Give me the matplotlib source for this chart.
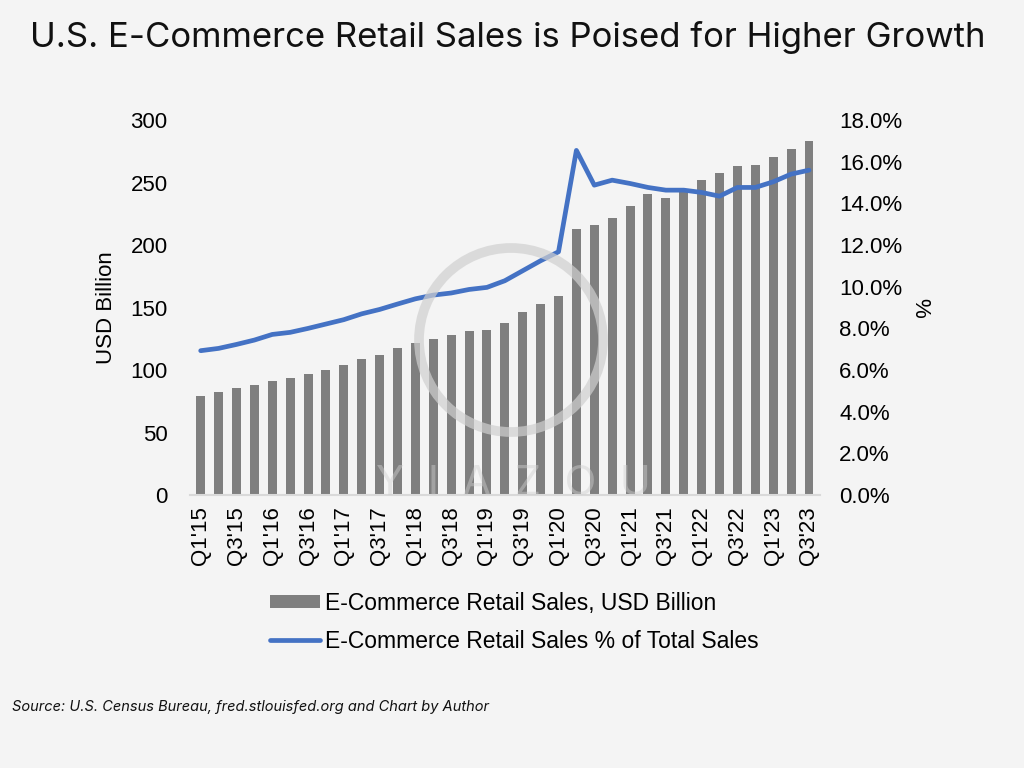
import numpy as np
import matplotlib.pyplot as plt
from matplotlib.patches import Ellipse

# Data
quarters = [f"Q{q}'{y}" for y in range(15, 24) for q in range(1, 5)][:35]
sales = [79.4, 82.1, 85.6, 88.3, 90.9, 93.6, 97.1, 99.7, 104.0, 108.5,
         112.0, 117.3, 121.6, 125.1, 127.7, 131.5, 132.3, 137.3, 146.1, 152.5,
         159.5, 213.3, 216.5, 221.9, 231.5, 241.1, 237.9, 245.3, 252.5, 258.1,
         263.2, 264.0, 270.9, 277.3, 283.5]
share = [6.93, 7.04, 7.23, 7.44, 7.71, 7.81, 8.00, 8.21, 8.42, 8.70,
         8.91, 9.17, 9.42, 9.60, 9.70, 9.87, 9.97, 10.29, 10.77, 11.25,
         11.68, 16.55, 14.88, 15.12, 14.96, 14.77, 14.64, 14.64, 14.53, 14.35,
         14.77, 14.77, 15.04, 15.41, 15.60]

title = "U.S. E-Commerce Retail Sales is Poised for Higher Growth"
source = "Source: U.S. Census Bureau, fred.stlouisfed.org and Chart by Author"

bg = '#f4f4f4'
plt.rcParams['font.family'] = ['Liberation Sans', 'DejaVu Sans']

fig = plt.figure(figsize=(10.24, 7.68), dpi=100, facecolor=bg)
ax = fig.add_axes([0.1855, 0.3555, 0.615, 0.488])
ax.set_facecolor(bg)

x = np.arange(len(quarters))
bars = ax.bar(x, sales, width=0.5, color='#7f7f7f', zorder=2,
              label='E-Commerce Retail Sales, USD Billion')
ax.set_xlim(-0.6, len(quarters) - 0.4)
ax.set_ylim(0, 300)
ax.set_yticks(range(0, 301, 50))
ax.set_xticks(x[::2])
ax.set_xticklabels(quarters[::2], rotation=90)
ax.tick_params(length=0, labelsize=16, colors='#000000')
ax.tick_params(axis='x', pad=8)
ax.tick_params(axis='y', pad=16)
for s in ['top', 'left', 'right']:
    ax.spines[s].set_visible(False)
ax.spines['bottom'].set_color('#d9d9d9')
ax.spines['bottom'].set_linewidth(1.5)
ax.set_ylabel('USD Billion', fontsize=16, labelpad=10)

ax2 = ax.twinx()
line, = ax2.plot(x, share, color='#4472c4', lw=3.4, solid_joinstyle='round',
                 solid_capstyle='round', zorder=3,
                 label='E-Commerce Retail Sales % of Total Sales')
ax2.set_ylim(0, 18)
ax2.set_yticks(np.arange(0, 18.1, 2))
ax2.set_yticklabels([f'{v:.1f}%' for v in np.arange(0, 18.1, 2)])
ax2.tick_params(length=0, labelsize=16, pad=14)
for s in ['top', 'left', 'right', 'bottom']:
    ax2.spines[s].set_visible(False)
ax2.set_ylabel('%', fontsize=16, rotation=270, labelpad=20)

# faint watermark
wm = '#d0d0d0'
fig.patches.append(Ellipse((511 / 1024, 1 - 340 / 768), 2 * 92 / 1024, 2 * 92 / 768,
                           transform=fig.transFigure, fill=False, ec=wm,
                           lw=7, alpha=0.7, zorder=5))
fig.text(513 / 1024, 1 - 484 / 768, 'Y  I  A  Z  O  U', ha='center', va='center',
         fontsize=30, color=wm, alpha=0.45, family='Inter')

fig.legend(handles=[bars, line], loc='center', bbox_to_anchor=(0.502, 0.19),
           frameon=False, fontsize=16.5, handlelength=2.2, handleheight=0.5,
           handletextpad=0.2, labelspacing=0.65)

fig.text(0.496, 1 - 38 / 768, title, ha='center', va='center', fontsize=25,
         family='Inter', color='#111111')
fig.text(12 / 1024, 1 - 707 / 768, source, ha='left', va='center', fontsize=10.5,
         style='italic', family='Inter', color='#111111')

fig.savefig('out.png', dpi=100, facecolor=bg)
